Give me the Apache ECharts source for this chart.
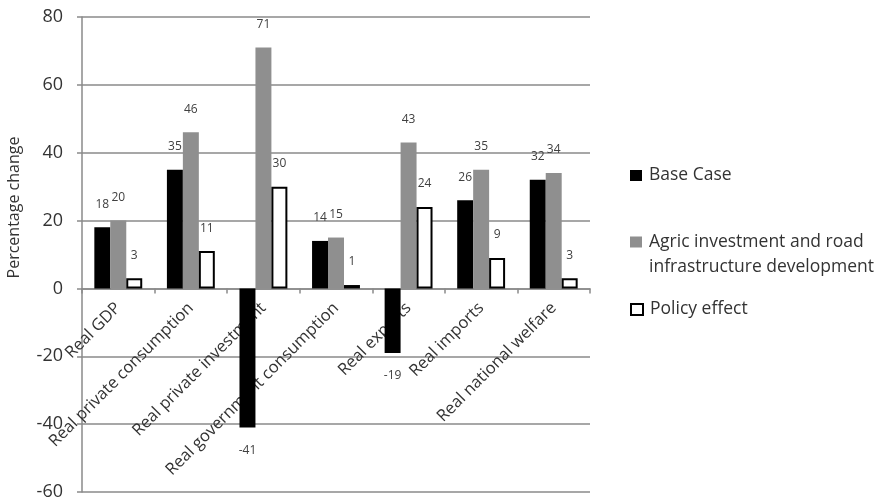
<!DOCTYPE html>
<html>
<head>
<meta charset="utf-8">
<script src="https://cdn.jsdelivr.net/npm/echarts@6/dist/echarts.min.js"></script>
<style>
  html, body { margin: 0; padding: 0; background: #fff; }
  #chart { width: 891px; height: 500px; }
</style>
</head>
<body>
<div id="chart"></div>
<script>
// Categories and series values (percentage change)
const categories = [
  'Real GDP',
  'Real private consumption',
  'Real private investment',
  'Real government consumption',
  'Real exports',
  'Real imports',
  'Real national welfare'
];
const baseCase = [18, 35, -41, 14, -19, 26, 32];
const agricRoad = [20, 46, 71, 15, 43, 35, 34];
const policyEffect = [3, 11, 30, 1, 24, 9, 3];

const seriesNames = [
  'Base Case',
  'Agric investment and road\ninfrastructure development',
  'Policy effect'
];

const yTicks = { min: -60, max: 80, step: 20 };

const FONT = 'Open Sans';
const TEXT = '#333333';
const GRID = '#8a8a8a';

const W = 891, H = 500;
const gridBox = { left: 82, right: 301, top: 17, bottom: 8 };
// Lift the category axis (line, ticks and labels) up to the zero line
const plotH = H - gridBox.top - gridBox.bottom;
const zeroLift = -plotH * (0 - yTicks.min) / (yTicks.max - yTicks.min);

const chart = echarts.init(document.getElementById('chart'), null, { renderer: 'canvas' });

const valueLabel = {
  show: true,
  position: 'outside',
  distance: 17,
  fontFamily: FONT,
  fontSize: 12,
  color: '#404040'
};

const legendText = {
  fontFamily: FONT,
  fontSize: 17.5,
  color: TEXT,
  lineHeight: 25,
  padding: [0, 0, 0, 2]
};

function legendBlock(name, top, extra) {
  return Object.assign({
    data: [name],
    orient: 'vertical',
    left: 630,
    top: top,
    padding: 0,
    itemWidth: 12,
    itemHeight: 11,
    selectedMode: false,
    icon: 'rect',
    textStyle: legendText
  }, extra || {});
}

chart.setOption({
  animation: false,
  backgroundColor: '#fff',
  grid: Object.assign({ containLabel: false, outerBoundsMode: 'none' }, gridBox),
  legend: [
    legendBlock(seriesNames[0], 163),
    // two-line entry: a leading blank line keeps the marker beside the first line
    legendBlock(seriesNames[1], 204.5, { formatter: name => '\n' + name }),
    legendBlock(seriesNames[2], 297)
  ],
  xAxis: {
    type: 'category',
    data: categories,
    position: 'bottom',
    offset: zeroLift,
    axisLine: { onZero: false, lineStyle: { color: GRID, width: 1.5 } },
    axisTick: { show: true, length: 5, lineStyle: { color: GRID, width: 1.5 } },
    axisLabel: {
      interval: 0,
      rotate: 45,
      margin: 17,
      // top padding nudges the slanted text down-right of its anchor
      padding: [28, 0, 0, 0],
      fontFamily: FONT,
      fontSize: 16.5,
      color: TEXT
    },
    splitLine: { show: false }
  },
  yAxis: {
    type: 'value',
    min: yTicks.min,
    max: yTicks.max,
    interval: yTicks.step,
    name: 'Percentage change',
    nameLocation: 'middle',
    nameGap: 60,
    nameTextStyle: {
      fontFamily: FONT,
      fontSize: 16,
      color: TEXT,
      padding: [0, 0, 0, 94]
    },
    axisLine: { show: true, lineStyle: { color: GRID, width: 1.5 } },
    axisTick: { show: true, length: 5, lineStyle: { color: GRID, width: 1.5 } },
    axisLabel: {
      margin: 19,
      fontFamily: FONT,
      fontSize: 18,
      color: TEXT
    },
    splitLine: { show: true, lineStyle: { color: GRID, width: 1.5 } }
  },
  series: [
    {
      name: seriesNames[0],
      type: 'bar',
      data: baseCase,
      barGap: '0%',
      barCategoryGap: '34%',
      itemStyle: { color: '#000' },
      label: valueLabel
    },
    {
      name: seriesNames[1],
      type: 'bar',
      data: agricRoad,
      itemStyle: { color: '#8f8f8f' },
      label: valueLabel
    },
    {
      name: seriesNames[2],
      type: 'bar',
      data: policyEffect,
      itemStyle: { color: '#fff', borderColor: '#000', borderWidth: 2 },
      label: valueLabel
    }
  ]
});
</script>
</body>
</html>
